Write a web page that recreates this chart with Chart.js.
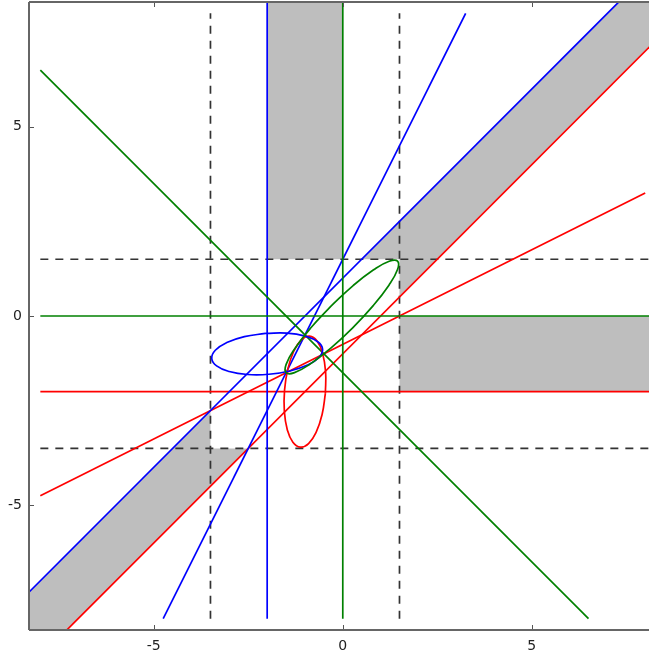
<!DOCTYPE html>
<html>
<head>
<meta charset="utf-8">
<script src="https://cdn.jsdelivr.net/npm/chart.js@4.4.0/dist/chart.umd.min.js"></script>
<style>
html,body{margin:0;padding:0;background:#fff;}
#wrap{width:649px;height:658px;}
</style>
</head>
<body>
<div id="wrap"><canvas id="c" width="649" height="658"></canvas></div>
<script>
// ---- data (plot coordinates) ----
const xRange = [-8.3, 8.1];
const yRange = [-8.3, 8.3];
const labelledTicks = [-5, 0, 5];

// gray regions (closed polygons)
const grayVertical   = [[-2,1.5],[0,1.5],[0,10],[-2,10],[-2,1.5]];
const grayHorizontal = [[1.5,0],[10,0],[10,-2],[1.5,-2],[1.5,0]];
const grayUpperBand  = [[0.5,1.5],[1.5,1.5],[1.5,0.5],[10,9],[10,11],[0.5,1.5]];
const grayLowerBand  = [[-3.5,-2.5],[-3.5,-3.5],[-2.5,-3.5],[-10,-11],[-10,-9],[-3.5,-2.5]];

// dashed guide lines
const dashedLines = [
  [[-3.5,-8],[-3.5,8]],
  [[1.5,-8],[1.5,8]],
  [[-8,1.5],[8.3,1.5]],
  [[-8,-3.5],[8.3,-3.5]]
];

// coloured lines
const greenLines = [
  [[0,-8],[0,10]],
  [[-8,0],[10,0]],
  [[-8,6.5],[6.5,-8]]
];
const blueLines = [
  [[-2,-8],[-2,10]],
  [[-4.75,-8],[3.25,8]],
  [[-10,-9],[9.5,10.5]]
];
const redLines = [
  [[-8,-2],[10,-2]],
  [[-8,-4.75],[8,3.25]],
  [[-9,-10],[10.5,9.5]]
];

// ellipses (points read around each curve)
const blueEllipse = [[-2.045,-0.460],[-2.603,-0.547],[-3.068,-0.703],[-3.372,-0.905],[-3.466,-1.122],[-3.337,-1.320],[-3.005,-1.468],[-2.519,-1.546],[-1.955,-1.540],[-1.398,-1.453],[-0.932,-1.297],[-0.629,-1.095],[-0.534,-0.878],[-0.663,-0.680],[-0.995,-0.532],[-1.481,-0.454],[-2.045,-0.460]];
const redEllipse = [[-0.460,-2.045],[-0.547,-2.603],[-0.703,-3.068],[-0.905,-3.372],[-1.122,-3.466],[-1.320,-3.337],[-1.468,-3.005],[-1.546,-2.519],[-1.540,-1.955],[-1.453,-1.398],[-1.297,-0.932],[-1.095,-0.629],[-0.878,-0.534],[-0.680,-0.663],[-0.532,-0.995],[-0.454,-1.481],[-0.460,-2.045]];
const greenEllipse = [[-0.312,0.262],[-0.855,-0.324],[-1.271,-0.865],[-1.498,-1.278],[-1.5,-1.5],[-1.278,-1.498],[-0.865,-1.271],[-0.324,-0.855],[0.262,-0.312],[0.805,0.274],[1.221,0.815],[1.448,1.228],[1.45,1.45],[1.228,1.448],[0.815,1.221],[0.274,0.805],[-0.312,0.262]];

// ---- styles ----
const GRAY = '#bebebe';
const BLUE = '#0000ff', RED = '#ff0000', GREEN = '#008000';
const pts = a => a.map(p => ({x:p[0], y:p[1]}));

const datasets = [];
[grayVertical, grayHorizontal, grayUpperBand, grayLowerBand].forEach(poly => {
  datasets.push({data: pts(poly), showLine: true, fill: 'shape', backgroundColor: GRAY,
    borderWidth: 0, borderColor: 'rgba(0,0,0,0)', pointRadius: 0, tension: 0, order: 4});
});
dashedLines.forEach(l => {
  datasets.push({data: pts(l), showLine: true, fill: false, borderColor: '#333333',
    borderWidth: 1.7, borderDash: [8,7], pointRadius: 0, tension: 0, order: 3});
});
function addLines(list, color) {
  list.forEach(l => datasets.push({data: pts(l), showLine: true, fill: false, borderColor: color,
    borderWidth: 1.7, pointRadius: 0, tension: 0, order: 2}));
}
addLines(greenLines, GREEN);
addLines(blueLines, BLUE);
addLines(redLines, RED);
[[greenEllipse, GREEN], [blueEllipse, BLUE], [redEllipse, RED]].forEach(([e, c]) => {
  datasets.push({data: pts(e), showLine: true, fill: false, borderColor: c,
    borderWidth: 1.7, pointRadius: 0, tension: 0.45, order: 1});
});

const frameTicks = {
  id: 'frameTicks',
  afterDatasetsDraw(chart) {
    const {ctx, chartArea: a, scales} = chart;
    ctx.save();
    ctx.strokeStyle = '#555555';
    ctx.lineWidth = 1;
    ctx.beginPath();
    scales.x.ticks.forEach(t => {
      const px = Math.round(scales.x.getPixelForValue(t.value)) + 0.5;
      ctx.moveTo(px, a.bottom); ctx.lineTo(px, a.bottom - 5);
      ctx.moveTo(px, a.top); ctx.lineTo(px, a.top + 5);
    });
    scales.y.ticks.forEach(t => {
      const py = Math.round(scales.y.getPixelForValue(t.value)) + 0.5;
      ctx.moveTo(a.left, py); ctx.lineTo(a.left + 5, py);
    });
    ctx.stroke();
    ctx.lineWidth = 2;
    ctx.strokeStyle = '#666666';
    ctx.beginPath();
    ctx.moveTo(a.left, a.top); ctx.lineTo(a.right, a.top);
    ctx.moveTo(a.left, a.top); ctx.lineTo(a.left, a.bottom);
    ctx.moveTo(a.left, a.bottom); ctx.lineTo(a.right, a.bottom);
    ctx.stroke();
    ctx.restore();
  }
};

function noPad(s) { s.paddingLeft = 0; s.paddingRight = 0; s.paddingTop = 0; s.paddingBottom = 0; }
const tickFont = {family: 'DejaVu Sans', size: 14};
new Chart(document.getElementById('c'), {
  type: 'scatter',
  data: {datasets},
  plugins: [frameTicks],
  options: {
    responsive: false,
    animation: false,
    events: [],
    layout: {padding: 0},
    plugins: {legend: {display: false}, tooltip: {enabled: false}},
    scales: {
      x: {
        type: 'linear', position: 'bottom', min: xRange[0], max: xRange[1],
        afterFit(s) { s.height = 28; noPad(s); },
        grid: {display: false, drawTicks: false}, border: {display: false},
        ticks: {stepSize: 1, includeBounds: false, autoSkip: false, maxRotation: 0, padding: 8,
          color: '#222222', font: tickFont,
          callback: v => labelledTicks.includes(v) ? String(v) : null}
      },
      xTop: {
        type: 'linear', position: 'top', min: xRange[0], max: xRange[1],
        afterFit(s) { s.height = 2; noPad(s); },
        grid: {display: false, drawTicks: false}, border: {display: false},
        ticks: {display: false}
      },
      y: {
        type: 'linear', position: 'left', min: yRange[0], max: yRange[1],
        afterFit(s) { s.width = 29; noPad(s); },
        grid: {display: false, drawTicks: false}, border: {display: false},
        ticks: {stepSize: 1, includeBounds: false, autoSkip: false, padding: 7,
          color: '#222222', font: tickFont,
          callback: v => labelledTicks.includes(v) ? String(v) : null}
      }
    }
  }
});
</script>
</body>
</html>
